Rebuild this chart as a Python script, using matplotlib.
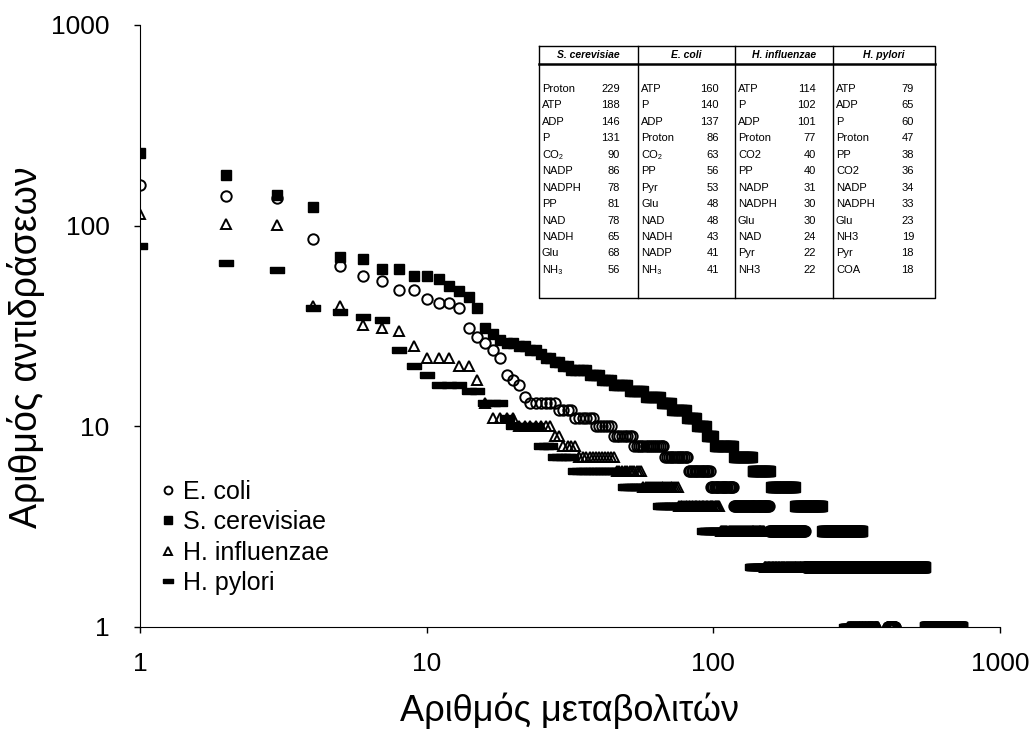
import numpy as np
import matplotlib.pyplot as plt

plt.rcParams['font.family'] = ['Liberation Sans', 'DejaVu Sans']

# top-ranked metabolites read one by one, then tail as (reactions, number of metabolites)
ecoli_top = [160, 140, 137, 86, 63, 56, 53, 48, 48, 43, 41, 41, 39, 31, 28, 26, 24, 22, 18, 17, 16, 14]
ecoli_k = [13, 12, 11, 10, 9, 8, 7, 6, 5, 4, 3, 2, 1]
ecoli_n = [6, 4, 6, 6, 8, 15, 14, 16, 20, 39, 52, 197, 25]

scer_top = [229, 178, 142, 124, 70, 68, 61, 61, 56, 56, 54, 50, 47, 44, 39, 31, 29, 27, 26, 26,
            25, 25, 24, 24, 23, 22, 22, 21, 21, 20, 20]
scer_k = [19, 18, 17, 16, 15, 14, 13, 12, 11, 10, 9, 8, 7, 6, 5, 4, 3, 2, 1]
scer_n = [5, 4, 4, 6, 7, 8, 6, 9, 7, 7, 6, 17, 19, 22, 34, 47, 91, 217, 190]

hinf_top = [114, 102, 101, 40, 40, 32, 31, 30, 25, 22, 22, 22, 20, 20, 17, 13]
hinf_k = [11, 10, 9, 8, 7, 6, 5, 4, 3, 2, 1]
hinf_n = [4, 7, 2, 4, 12, 11, 19, 30, 45, 145, 80]

hpyl_top = [79, 65, 60, 39, 37, 35, 34, 24, 20, 18]
hpyl_k = [16, 15, 13, 11, 10, 8, 7, 6, 5, 4, 3, 2, 1]
hpyl_n = [3, 2, 3, 1, 5, 3, 5, 16, 16, 28, 43, 155, 40]

# table of most connected metabolites
tab_species = ['S. cerevisiae', 'E. coli', 'H. influenzae', 'H. pylori']
tab_names = [
    ['Proton', 'ATP', 'ADP', 'P', 'CO₂', 'NADP', 'NADPH', 'PP', 'NAD', 'NADH', 'Glu', 'NH₃'],
    ['ATP', 'P', 'ADP', 'Proton', 'CO₂', 'PP', 'Pyr', 'Glu', 'NAD', 'NADH', 'NADP', 'NH₃'],
    ['ATP', 'P', 'ADP', 'Proton', 'CO2', 'PP', 'NADP', 'NADPH', 'Glu', 'NAD', 'Pyr', 'NH3'],
    ['ATP', 'ADP', 'P', 'Proton', 'PP', 'CO2', 'NADP', 'NADPH', 'Glu', 'NH3', 'Pyr', 'COA'],
]
tab_vals = [
    [229, 188, 146, 131, 90, 86, 78, 81, 78, 65, 68, 56],
    [160, 140, 137, 86, 63, 56, 53, 48, 48, 43, 41, 41],
    [114, 102, 101, 77, 40, 40, 31, 30, 30, 24, 22, 22],
    [79, 65, 60, 47, 38, 36, 34, 33, 23, 19, 18, 18],
]


def ranked(top, k, n):
    y = np.concatenate([top, np.repeat(k, n)])
    return np.arange(1, len(y) + 1), y


fig = plt.figure(figsize=(10.32, 7.42), dpi=100)
ax = fig.add_axes([140 / 1032, 1 - 627 / 742, 860 / 1032, 602 / 742])

bar = [(-1, -0.42), (1, -0.42), (1, 0.42), (-1, 0.42), (-1, -0.42)]

x, y = ranked(ecoli_top, ecoli_k, ecoli_n)
ax.plot(x, y, ls='none', marker='o', ms=7.5, mfc='none', mec='black', mew=1.4, label='E. coli')
x, y = ranked(scer_top, scer_k, scer_n)
ax.plot(x, y, ls='none', marker='s', ms=7.5, mfc='black', mec='black', label='S. cerevisiae')
x, y = ranked(hinf_top, hinf_k, hinf_n)
ax.plot(x, y, ls='none', marker='^', ms=7.5, mfc='none', mec='black', mew=1.4, label='H. influenzae')
x, y = ranked(hpyl_top, hpyl_k, hpyl_n)
ax.plot(x, y, ls='none', marker=bar, ms=9.5, mfc='black', mec='black', label='H. pylori')

ax.set_xscale('log')
ax.set_yscale('log')
ax.set_xlim(1, 1000)
ax.set_ylim(1, 1000)
ax.set_xticks([1, 10, 100, 1000])
ax.set_xticklabels(['1', '10', '100', '1000'])
ax.set_yticks([1, 10, 100, 1000])
ax.set_yticklabels(['1', '10', '100', '1000'])
ax.minorticks_off()
ax.tick_params(labelsize=19, length=4, width=1)
ax.tick_params(axis='y', pad=18)
ax.tick_params(axis='x', pad=14)
for s in ['top', 'right']:
    ax.spines[s].set_visible(False)
ax.set_xlabel('Αριθμός μεταβολιτών', fontsize=26)
ax.set_ylabel('Αριθμός αντιδράσεων', fontsize=27)
ax.xaxis.set_label_coords(0.5, -0.108)
ax.yaxis.set_label_coords(-0.11, 0.465)

leg = ax.legend(loc='upper left', bbox_to_anchor=(0.025, 0.245), frameon=False, fontsize=18,
                handlelength=0.5, handletextpad=0.35, labelspacing=0.26, markerscale=0.75,
                borderpad=0, borderaxespad=0)

# table overlay in pixel coordinates
tx = fig.add_axes([0, 0, 1, 1], facecolor='none')
tx.set_xlim(0, 1032)
tx.set_ylim(742, 0)
tx.axis('off')
cols = [539, 638, 735, 833, 935]
tx.plot([cols[0], cols[-1], cols[-1], cols[0], cols[0]], [46, 46, 298, 298, 46], color='black', lw=1)
tx.plot([cols[0], cols[-1]], [64, 64], color='black', lw=1.8)
for c in cols[1:-1]:
    tx.plot([c, c], [46, 298], color='black', lw=1)
for j in range(4):
    tx.text((cols[j] + cols[j + 1]) / 2, 55, tab_species[j], ha='center', va='center',
            fontsize=7.5, fontweight='bold', fontstyle='italic')
    for i in range(12):
        ty = 89 + i * 16.45
        tx.text(cols[j] + 3, ty, tab_names[j][i], ha='left', va='center', fontsize=8)
        tx.text(cols[j] + 81, ty, str(tab_vals[j][i]), ha='right', va='center', fontsize=8)

plt.savefig('out.png', dpi=100)
